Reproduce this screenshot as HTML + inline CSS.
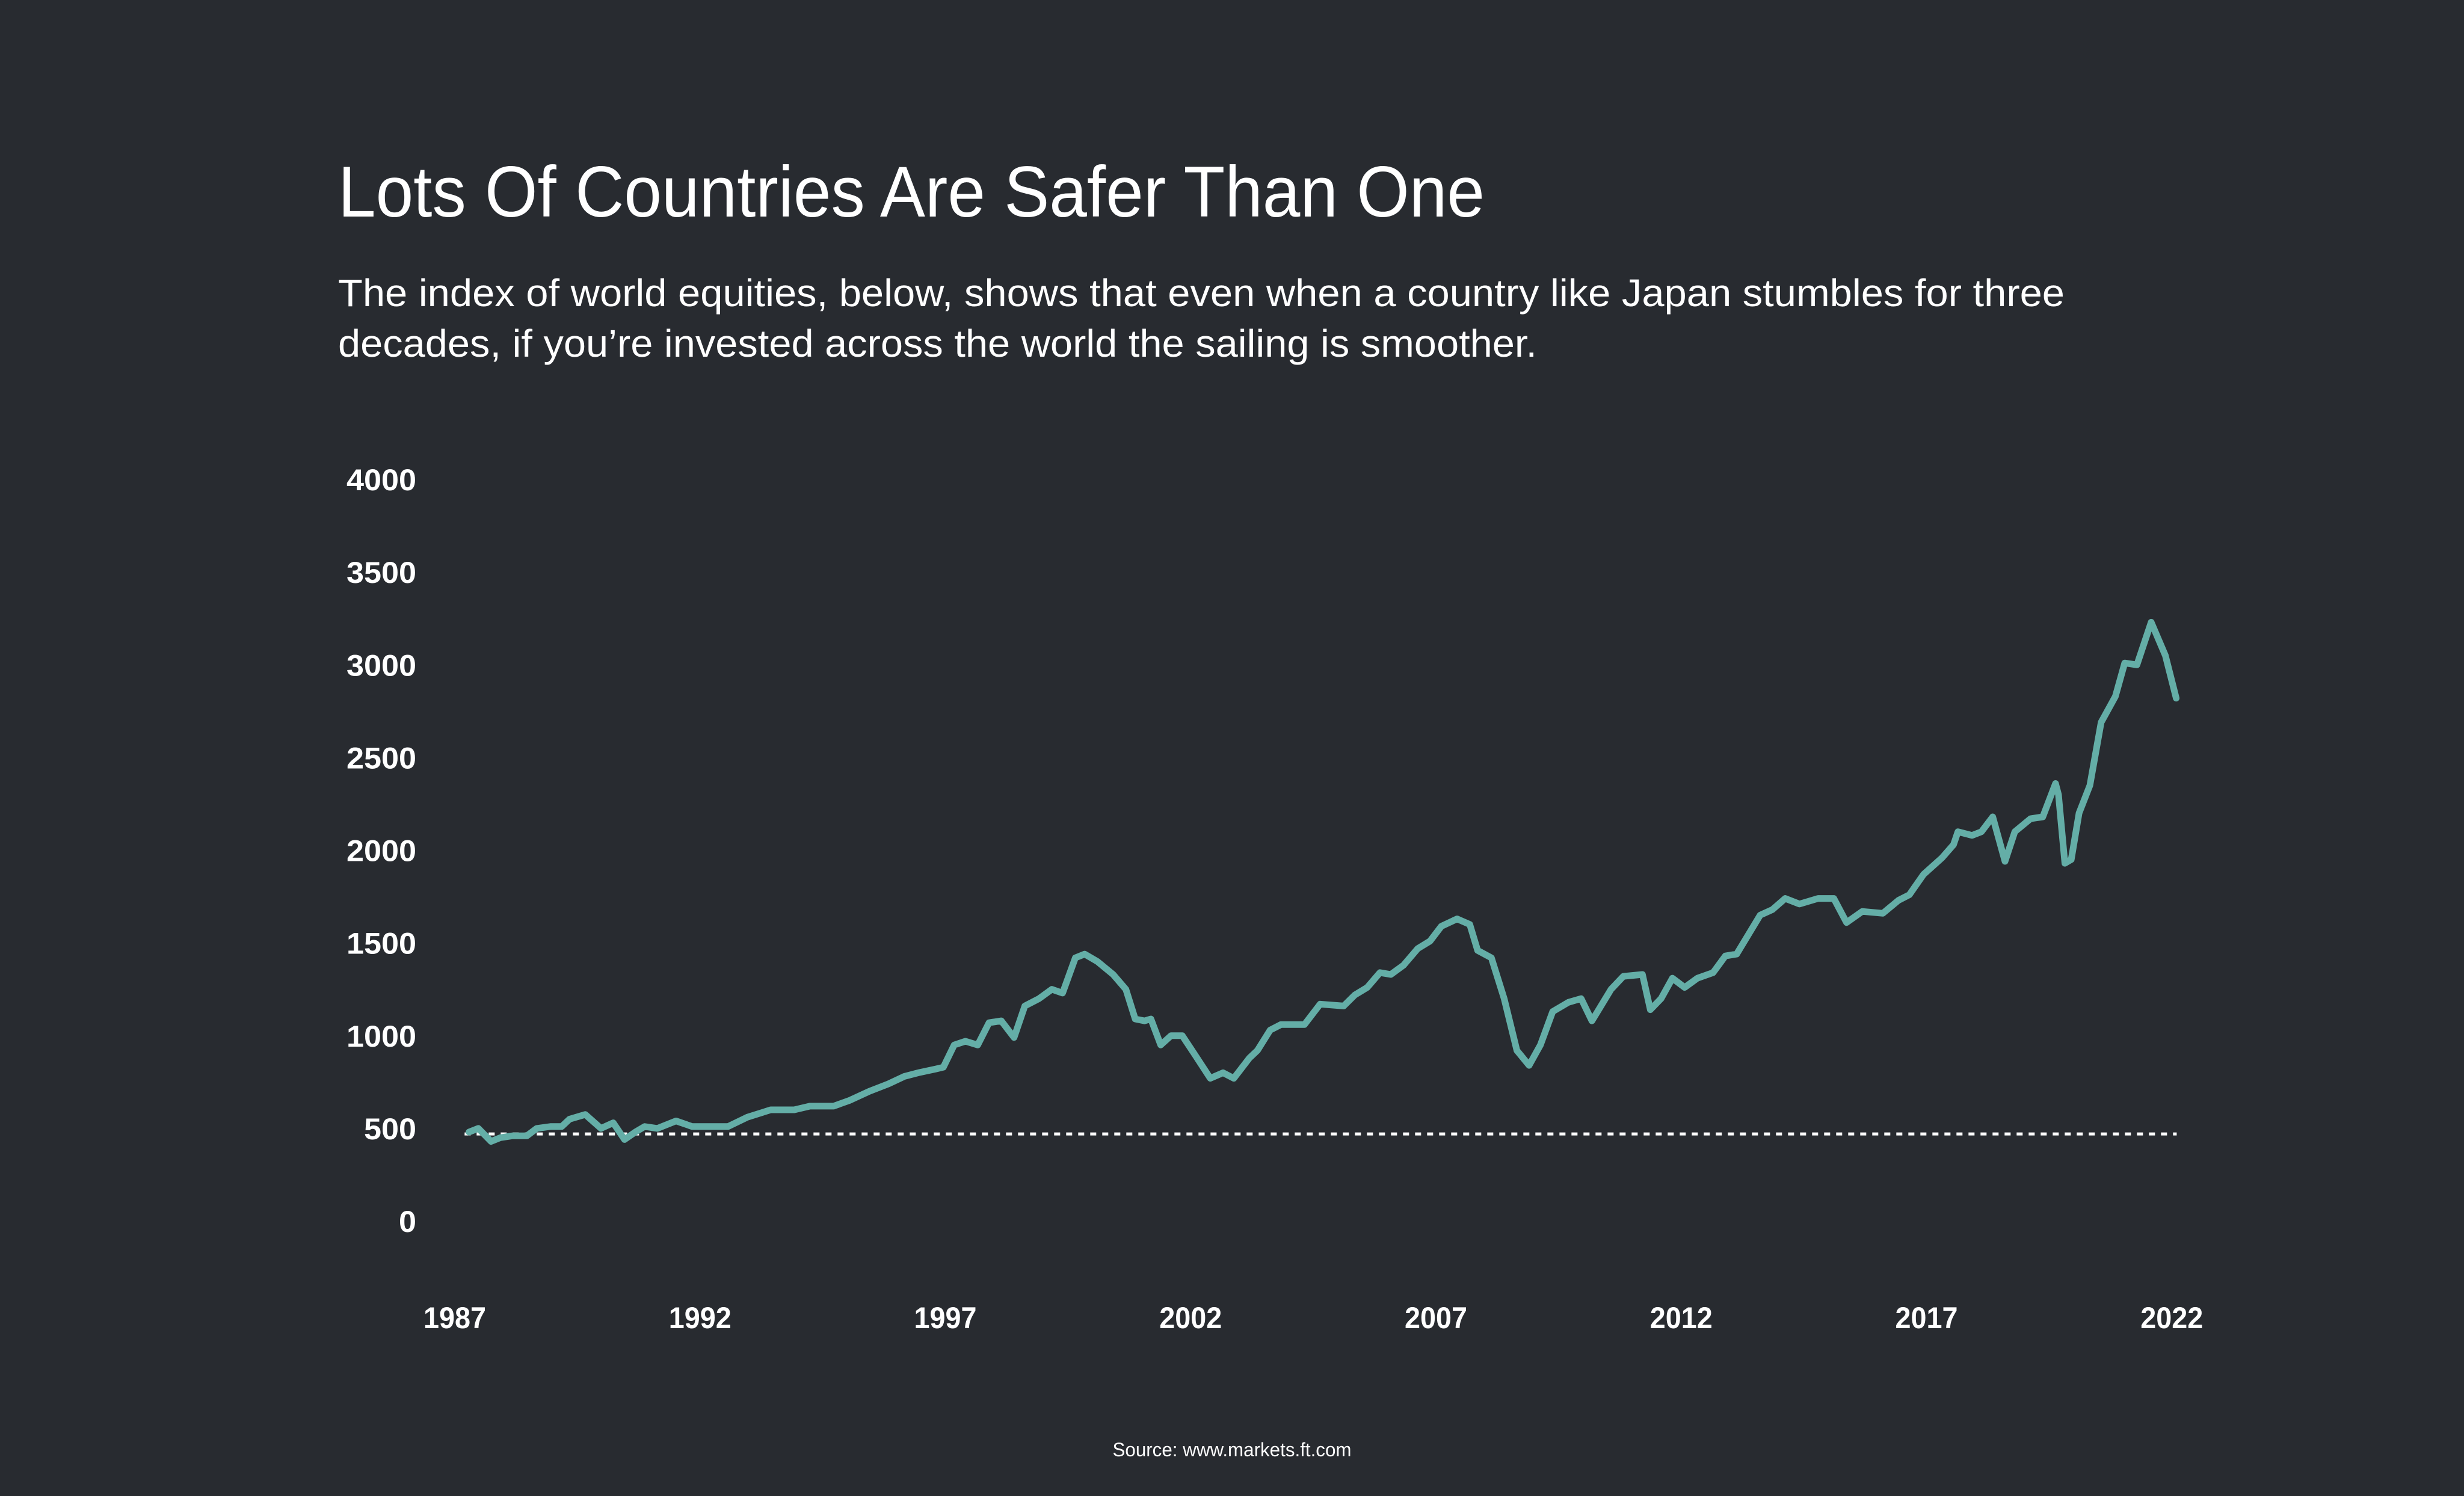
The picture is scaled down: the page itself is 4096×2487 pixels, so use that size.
<!DOCTYPE html>
<html><head><meta charset="utf-8"><style>
html,body{margin:0;padding:0;background:#282b30;}
svg{display:block;font-family:"Liberation Sans",sans-serif;}
</style></head><body>
<svg width="4096" height="2487" viewBox="0 0 4096 2487">
<rect x="0" y="0" width="4096" height="2487" fill="#282b30"/>
<text x="562" y="360" font-size="120" fill="#ffffff" textLength="1906" lengthAdjust="spacingAndGlyphs">Lots Of Countries Are Safer Than One</text>
<text x="562" y="509" font-size="64" fill="#ffffff" textLength="2870" lengthAdjust="spacingAndGlyphs">The index of world equities, below, shows that even when a country like Japan stumbles for three</text>
<text x="562" y="593" font-size="64" fill="#ffffff" textLength="1993" lengthAdjust="spacingAndGlyphs">decades, if you’re invested across the world the sailing is smoother.</text>
<g id="yticks"></g>
<g id="xticks"></g>
<g id="plot"></g>
<text x="2048" y="2421" font-size="32" fill="#ffffff" text-anchor="middle" textLength="397" lengthAdjust="spacingAndGlyphs">Source: www.markets.ft.com</text>
</svg>
<script>
const yTickValues = [0, 500, 1000, 1500, 2000, 2500, 3000, 3500, 4000];
const xTickYears = [1987, 1992, 1997, 2002, 2007, 2012, 2017, 2022];
const baselineValue = 470;
const baselineStart = 1987.2;
const baselineEnd = 2022.1;
const yearOffsets = [0.29,0.48,0.74,0.93,1.18,1.47,1.67,1.95,2.18,2.34,2.66,2.98,3.23,3.46,3.68,3.87,4.13,4.51,4.84,5.22,5.57,5.96,6.44,6.92,7.24,7.72,8.04,8.45,8.84,9.16,9.45,9.80,9.96,10.18,10.41,10.66,10.89,11.14,11.40,11.62,11.91,12.17,12.39,12.65,12.84,13.10,13.42,13.68,13.87,14.06,14.19,14.39,14.60,14.83,15.08,15.40,15.66,15.88,16.20,16.36,16.62,16.84,17.32,17.64,18.12,18.35,18.60,18.86,19.08,19.34,19.63,19.88,20.11,20.43,20.69,20.85,21.13,21.39,21.65,21.90,22.13,22.38,22.70,22.96,23.18,23.57,23.82,24.21,24.37,24.59,24.82,25.07,25.33,25.65,25.90,26.13,26.61,26.86,27.12,27.41,27.79,28.11,28.37,28.69,29.11,29.43,29.65,29.94,30.32,30.55,30.64,30.93,31.12,31.35,31.60,31.80,32.12,32.37,32.63,32.69,32.82,32.95,33.11,33.33,33.56,33.85,34.04,34.29,34.58,34.87,35.09];
const indexValues = [480,500,430,450,460,460,500,510,510,550,575,500,530,440,480,510,500,540,510,510,510,560,600,600,620,620,650,700,740,780,800,820,830,950,970,950,1070,1080,990,1160,1200,1250,1230,1420,1440,1400,1330,1250,1090,1080,1090,950,1000,1000,900,770,800,770,880,920,1030,1060,1060,1170,1160,1220,1260,1340,1330,1380,1470,1510,1590,1630,1600,1460,1420,1200,920,840,950,1130,1180,1200,1080,1250,1320,1330,1140,1200,1310,1260,1310,1340,1430,1440,1650,1680,1740,1710,1740,1740,1610,1670,1660,1730,1760,1870,1960,2030,2100,2080,2100,2180,1940,2100,2170,2180,2360,2300,1930,1950,2200,2350,2690,2830,3010,3000,3230,3050,2820];

const NS = "http://www.w3.org/2000/svg";
function xScale(year){ return 756 + (year - 1987) * 81.55; }
function yScale(v){ return 2030 - v * 0.30825; }

const yg = document.getElementById('yticks');
yTickValues.forEach(v => {
  const t = document.createElementNS(NS, 'text');
  t.setAttribute('x', 692);
  t.setAttribute('y', yScale(v) + 18);
  t.setAttribute('font-size', '50');
  t.setAttribute('font-weight', 'bold');
  t.setAttribute('fill', '#ffffff');
  t.setAttribute('text-anchor', 'end');
  const s = String(v);
  t.setAttribute('textLength', s.length * 29);
  t.setAttribute('lengthAdjust', 'spacingAndGlyphs');
  t.textContent = s;
  
  
  yg.appendChild(t);
});

const xg = document.getElementById('xticks');
xTickYears.forEach(yr => {
  const t = document.createElementNS(NS, 'text');
  t.setAttribute('x', xScale(yr));
  t.setAttribute('y', 2208);
  t.setAttribute('font-size', '50');
  t.setAttribute('font-weight', 'bold');
  t.setAttribute('fill', '#ffffff');
  t.setAttribute('text-anchor', 'middle');
  t.setAttribute('textLength', '104');
  t.setAttribute('lengthAdjust', 'spacingAndGlyphs');
  t.textContent = String(yr);
  
  
  xg.appendChild(t);
});

const pg = document.getElementById('plot');
const base = document.createElementNS(NS, 'line');
base.setAttribute('x1', xScale(baselineStart));
base.setAttribute('x2', xScale(baselineEnd));
base.setAttribute('y1', yScale(baselineValue));
base.setAttribute('y2', yScale(baselineValue));
base.setAttribute('stroke', '#ffffff');
base.setAttribute('stroke-width', '5');
base.setAttribute('stroke-dasharray', '10 10');


pg.appendChild(base);

const pts = yearOffsets.map((o, i) => xScale(1987 + o).toFixed(1) + ',' + yScale(indexValues[i]).toFixed(1));
const line = document.createElementNS(NS, 'polyline');
line.setAttribute('points', pts.join(' '));
line.setAttribute('fill', 'none');
line.setAttribute('stroke', '#64aea7');
line.setAttribute('stroke-width', '11');
line.setAttribute('stroke-linejoin', 'round');
line.setAttribute('stroke-linecap', 'round');


pg.appendChild(line);
</script>
</body></html>
